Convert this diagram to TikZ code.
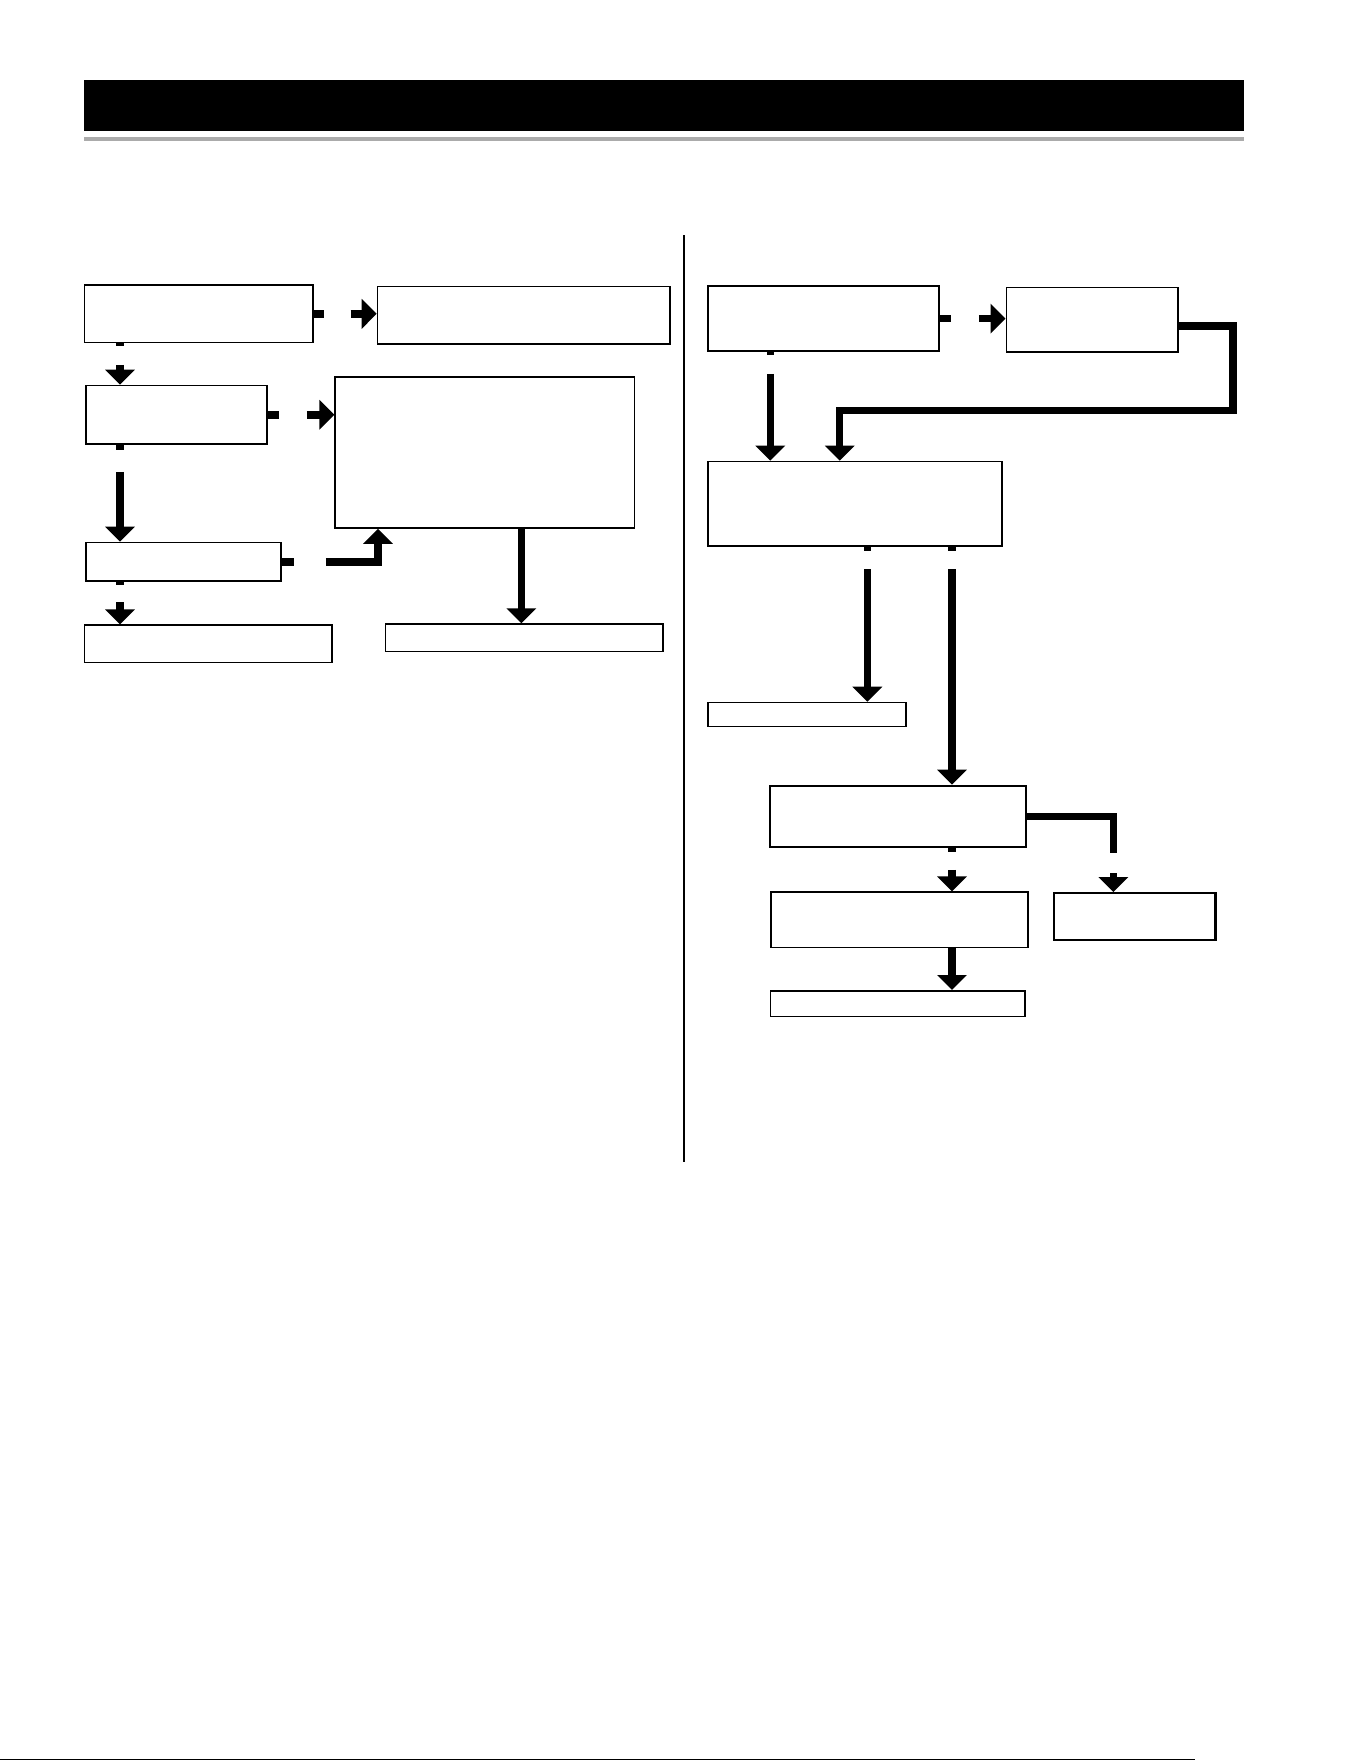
\documentclass[tikz,border=0pt]{standalone}
\usepackage{tikz}
\usetikzlibrary{
    arrows.meta,
}

\tikzset{
    cell/.style={draw=black,line width=0.9pt,inner sep=0pt,anchor=north west},
    flow/.style={line width=4.3pt,-{Triangle[width=0.58cm,length=0.3cm]}},
}

\begin{document}
\begin{tikzpicture}[x=0.02cm,y=-0.02cm]
    % page frame
    \useasboundingbox (0,0) rectangle (1361,1761);

    % Header
    \fill[black] (84,80) rectangle (1244,131.4);
    \fill[black!33] (84,137) rectangle (1244,141);

    % Divider
    \draw[line width=1.4pt] (684,235) -- (684,1162);

    % Columns
    \coordinate (colL) at (120,0);
    \coordinate (colA) at (378,0);
    \coordinate (colM) at (521.4,0);
    \coordinate (colB) at (770.3,0);
    \coordinate (colC) at (839.7,0);
    \coordinate (colD) at (867.4,0);
    \coordinate (colE) at (952,0);
    \coordinate (colR) at (1113.3,0);
    \coordinate (bend) at (1233,410.7);

    % Left boxes
    \node[cell,minimum width=4.57cm,minimum height=1.15cm] (A1) at (83.7,284.3) {};
    \node[cell,minimum width=5.85cm,minimum height=1.15cm] (A2) at (376.7,285.7) {};
    \node[cell,minimum width=3.62cm,minimum height=1.17cm] (A3) at (85.3,384.7) {};
    \node[cell,minimum width=5.99cm,minimum height=3.02cm] (A4) at (334.4,376.3) {};
    \node[cell,minimum width=3.90cm,minimum height=0.77cm] (A5) at (85.3,541.7) {};
    \node[cell,minimum width=4.95cm,minimum height=0.75cm] (A6) at (83.7,624.3) {};
    \node[cell,minimum width=5.55cm,minimum height=0.55cm] (A7) at (384.6,623.3) {};

    % Right boxes
    \node[cell,minimum width=4.62cm,minimum height=1.30cm] (B1) at (707.4,285.3) {};
    \node[cell,minimum width=3.43cm,minimum height=1.29cm] (B2) at (1005.5,286.7) {};
    \node[cell,minimum width=5.88cm,minimum height=1.69cm] (B3) at (707.4,460.7) {};
    \node[cell,minimum width=3.96cm,minimum height=0.48cm] (B4) at (707.4,701.7) {};
    \node[cell,line width=1.2pt,minimum width=5.13cm,minimum height=1.23cm] (B5) at (768.7,784.7) {};
    \node[cell,minimum width=5.14cm,minimum height=1.11cm] (B6) at (770.3,891.3) {};
    \node[cell,line width=1.4pt,minimum width=3.23cm,minimum height=0.94cm] (B7) at (1052.7,892) {};
    \node[cell,minimum width=5.09cm,minimum height=0.51cm] (B8) at (769.7,990) {};

    % Left arrows
    \draw[flow,dash pattern=on 0.2cm off 0.54cm on 30cm] (A1.east) -- (A1.east -| A2.west);
    \draw[flow,dash pattern=on 0.06cm off 0.37cm on 30cm] (A1.south -| colL) -- (A3.north -| colL);
    \draw[flow,dash pattern=on 0.22cm off 0.56cm on 30cm] (A3.east) -- (A3.east -| A4.west);
    \draw[flow,dash pattern=on 0.11cm off 0.43cm on 30cm] (A3.south -| colL) -- (A5.north -| colL);
    \draw[flow,dash pattern=on 0.24cm off 0.64cm on 30cm] (A5.east) -| (A4.south -| colA);
    \draw[flow,dash pattern=on 0.06cm off 0.35cm on 30cm] (A5.south -| colL) -- (A6.north -| colL);
    \draw[flow] (A4.south -| colM) -- (A7.north -| colM);

    % Right arrows
    \draw[flow,dash pattern=on 0.22cm off 0.56cm on 30cm] (B1.east) -- (B1.east -| B2.west);
    \draw[flow,dash pattern=on 0.07cm off 0.37cm on 30cm] (B1.south -| colB) -- (B3.north -| colB);
    \draw[flow] ([yshift=-0.13cm]B2.east) -| (bend) -| (B3.north -| colC);
    \draw[flow,dash pattern=on 0.09cm off 0.36cm on 30cm] (B3.south -| colD) -- (B4.north -| colD);
    \draw[flow,dash pattern=on 0.09cm off 0.36cm on 30cm] (B3.south -| colE) -- (B5.north -| colE);
    \draw[flow,dash pattern=on 0.07cm off 0.36cm on 30cm] (B5.south -| colE) -- (B6.north -| colE);
    \draw[flow,dash pattern=on 2.46cm off 0.4cm on 30cm] (B5.east) -| (B7.north -| colR);
    \draw[flow] (B6.south -| colE) -- (B8.north -| colE);

    % Footer rule
    \draw[line width=0.9pt] (0,1759.5) -- (1195,1759.5);
\end{tikzpicture}
\end{document}
